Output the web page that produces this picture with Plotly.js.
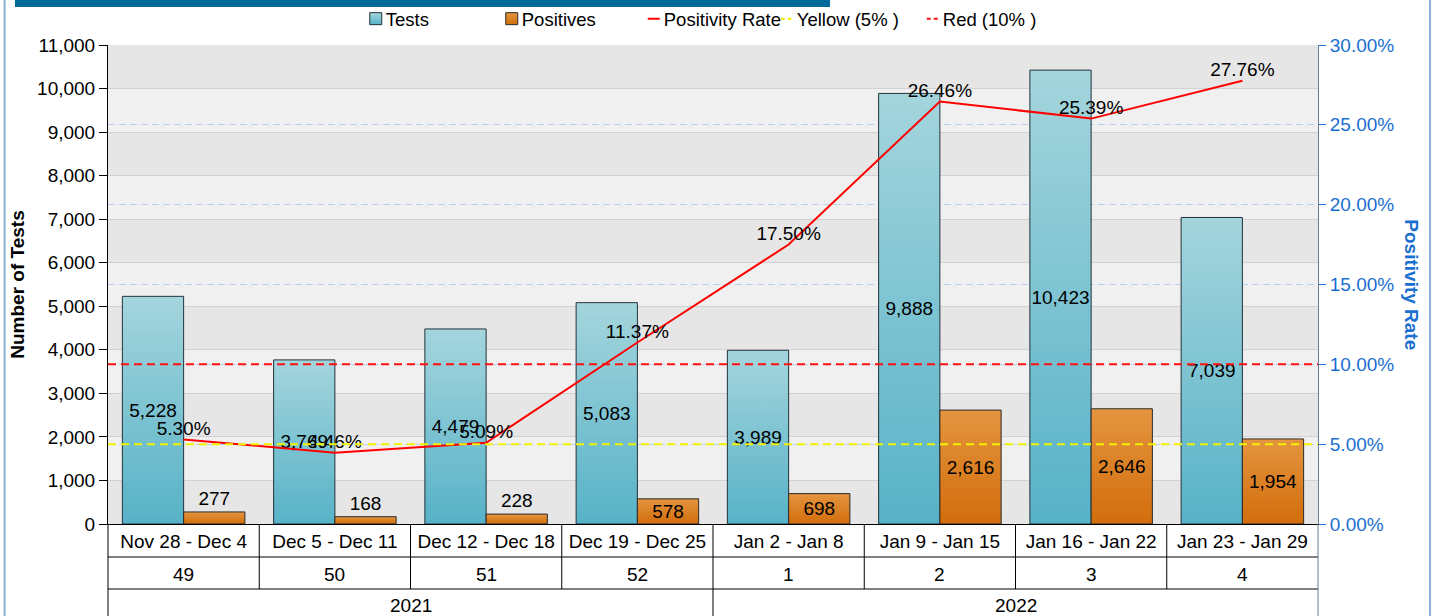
<!DOCTYPE html>
<html>
<head>
<meta charset="utf-8">
<script src="https://cdn.plot.ly/plotly-3.0.1.min.js"></script>
<style>html,body{margin:0;padding:0;background:#fff;}#chart{width:1433px;height:616px;}</style>
</head>
<body>
<div id="chart"></div>
<script>
const categories = ['Nov 28 - Dec 4','Dec 5 - Dec 11','Dec 12 - Dec 18','Dec 19 - Dec 25','Jan 2 - Jan 8','Jan 9 - Jan 15','Jan 16 - Jan 22','Jan 23 - Jan 29'];
const weeks = ['49','50','51','52','1','2','3','4'];
const years = ['2021','2021','2021','2021','2022','2022','2022','2022'];
const tests = [5228, 3769, 4479, 5083, 3989, 9888, 10423, 7039];
const positives = [277, 168, 228, 578, 698, 2616, 2646, 1954];
const positivityRate = [5.30, 4.46, 5.09, 11.37, 17.50, 26.46, 25.39, 27.76];
const yellowThreshold = 5;
const redThreshold = 10;
const leftMax = 11000;
const rightMax = 30;

const FONT = 'Liberation Sans, Arial, Helvetica, sans-serif';
const FS = 19;
const BLUE = '#1a6fd0';
const fmt = v => v.toLocaleString('en-US');

const traces = [
  {
    type: 'bar', name: 'Tests', x: categories, y: tests,
    text: tests.map(fmt), textposition: 'inside', insidetextanchor: 'middle',
    textangle: 0, textfont: {size: FS, color: '#000', family: FONT},
    marker: {color: '#7cc2d1', line: {color: '#22323a', width: 1}},
    legendwidth: 91, cliponaxis: false, hoverinfo: 'x+y'
  },
  {
    type: 'bar', name: 'Positives', x: categories, y: positives,
    text: positives.map(fmt), textposition: positives.map(v => v > 400 ? 'inside' : 'outside'),
    insidetextanchor: 'middle', textangle: 0,
    textfont: {size: FS, color: '#000', family: FONT},
    marker: {color: '#da7b1f', line: {color: '#2b2b2b', width: 1}},
    legendwidth: 97, cliponaxis: false, hoverinfo: 'x+y'
  },
  {
    type: 'scatter', mode: 'lines+text', name: 'Positivity Rate', x: categories, y: positivityRate,
    yaxis: 'y2', line: {color: '#ff0000', width: 2},
    text: positivityRate.map(v => v.toFixed(2) + '%'), textposition: 'top center',
    textfont: {size: FS, color: '#000', family: FONT}, cliponaxis: false,
    legendwidth: 88
  },
  {
    type: 'scatter', mode: 'lines', name: 'Yellow (5% )', x: [0, 1], y: [yellowThreshold, yellowThreshold],
    xaxis: 'x2', yaxis: 'y2', line: {color: '#f2f200', width: 2, dash: '8px,5px'},
    legendwidth: 101, hoverinfo: 'skip'
  },
  {
    type: 'scatter', mode: 'lines', name: 'Red (10% )', x: [0, 1], y: [redThreshold, redThreshold],
    xaxis: 'x2', yaxis: 'y2', line: {color: '#ff1010', width: 2, dash: '8px,5px'},
    legendwidth: 115, hoverinfo: 'skip'
  }
];

const shapes = [];
// alternating bands
for (let k = 0; k < leftMax; k += 2000) {
  shapes.push({type: 'rect', xref: 'paper', yref: 'y', x0: 0, x1: 1, y0: k, y1: k + 1000,
    fillcolor: '#e6e6e6', line: {width: 0}, layer: 'below'});
}
// title bar remnant
shapes.push({type: 'rect', xref: 'paper', yref: 'paper', x0: -0.0769, x1: 0.5967, y0: 1.0793, y1: 1.12,
  fillcolor: '#006a9b', line: {width: 0}});
// outer border lines
shapes.push({type: 'line', xref: 'paper', yref: 'paper', x0: -0.0855, x1: -0.0855, y0: -0.2, y1: 1.12,
  line: {color: '#8eb0d8', width: 2}});
shapes.push({type: 'line', xref: 'paper', yref: 'paper', x0: 1.0926, x1: 1.0926, y0: -0.2, y1: 1.12,
  line: {color: '#8eb0d8', width: 2}});
// table: horizontal lines
[-0.0689, -0.1357].forEach(yy => shapes.push({type: 'line', xref: 'paper', yref: 'paper', x0: 0, x1: 1, y0: yy, y1: yy,
  line: {color: '#000', width: 1}}));
// table: vertical lines between categories
for (let i = 1; i < categories.length; i++) {
  const full = years[i] !== years[i - 1];
  shapes.push({type: 'line', xref: 'x', yref: 'paper', x0: i - 0.5, x1: i - 0.5, y0: 0, y1: full ? -0.2 : -0.1357,
    line: {color: '#000', width: 1}});
}
// table outer sides
shapes.push({type: 'line', xref: 'paper', yref: 'paper', x0: 0, x1: 0, y0: 0, y1: -0.2, line: {color: '#000', width: 1}});
shapes.push({type: 'line', xref: 'paper', yref: 'paper', x0: 1, x1: 1, y0: 0, y1: -0.2, line: {color: '#6d7c8f', width: 1}});

const annotations = [];
weeks.forEach((w, i) => annotations.push({xref: 'x', yref: 'paper', x: i, y: -0.1044, text: w, showarrow: false,
  yanchor: 'middle', font: {size: FS, color: '#000', family: FONT}}));
const uniqueYears = [...new Set(years)];
uniqueYears.forEach(yr => {
  const idx = years.map((y, i) => y === yr ? i : -1).filter(i => i >= 0);
  const center = (idx[0] + idx[idx.length - 1]) / 2;
  annotations.push({xref: 'x', yref: 'paper', x: center, y: -0.1705, text: yr, showarrow: false,
    yanchor: 'middle', font: {size: FS, color: '#000', family: FONT}});
});
annotations.push({xref: 'paper', yref: 'paper', x: 1.077, y: 0.5, text: 'Positivity Rate', textangle: 90,
  showarrow: false, xanchor: 'center', yanchor: 'middle', font: {size: FS, color: BLUE, family: FONT, weight: 'bold'}});

const layout = {
  width: 1433, height: 616,
  margin: {l: 108, r: 115, t: 45, b: 92, pad: 0, autoexpand: false},
  paper_bgcolor: '#ffffff', plot_bgcolor: '#f0f0f0',
  font: {family: FONT, size: FS, color: '#000'},
  barmode: 'group', bargap: 0.19, bargroupgap: 0,
  uniformtext: {mode: 'show', minsize: FS},
  showlegend: true,
  legend: {orientation: 'h', x: 0.1965, xanchor: 'left', y: 1.054, yanchor: 'middle',
    font: {size: 18.5, family: FONT, color: '#000'}, bgcolor: 'rgba(0,0,0,0)', itemwidth: 30},
  xaxis: {type: 'category', range: [-0.5, categories.length - 0.5], showgrid: false, showline: true,
    linecolor: '#000', linewidth: 1, ticks: '', tickfont: {size: FS, family: FONT, color: '#000'},
    ticklabelstandoff: 0, zeroline: false, fixedrange: true},
  xaxis2: {overlaying: 'x', range: [0, 1], visible: false, fixedrange: true},
  yaxis: {range: [0, leftMax], dtick: 1000, tickformat: ',d', showgrid: true, gridcolor: '#d2d2d2', gridwidth: 1,
    showline: true, linecolor: '#000', linewidth: 1, ticks: 'outside', ticklen: 8, tickcolor: '#000',
    tickfont: {size: FS, family: FONT, color: '#000'}, zeroline: false, fixedrange: true,
    title: {text: 'Number of Tests', font: {size: FS, family: FONT, color: '#000', weight: 'bold'}, standoff: 7}},
  yaxis2: {overlaying: 'y', side: 'right', range: [0, rightMax], dtick: 5, tickformat: '.2f', ticksuffix: '%',
    showgrid: true, gridcolor: '#b9d3ee', griddash: '7px,4px', gridwidth: 1, showline: true, linecolor: '#6d7c8f',
    ticks: 'outside', ticklen: 7, tickcolor: BLUE, tickfont: {size: FS, family: FONT, color: BLUE},
    zeroline: false, fixedrange: true},
  shapes: shapes,
  annotations: annotations
};

const gd = document.getElementById('chart');
Plotly.newPlot(gd, traces, layout, {displayModeBar: false, staticPlot: true}).then(() => {
  try {
    const NS = 'http://www.w3.org/2000/svg';
    const svg = gd.querySelector('svg.main-svg');
    let defs = svg.querySelector('defs');
    const grads = {Tests: ['#a4d5dd', '#57b2c7'], Positives: ['#e4953f', '#d26d0c']};
    Object.keys(grads).forEach(name => {
      const lg = document.createElementNS(NS, 'linearGradient');
      lg.setAttribute('id', 'grad' + name);
      lg.setAttribute('x1', '0'); lg.setAttribute('y1', '0'); lg.setAttribute('x2', '0'); lg.setAttribute('y2', '1');
      grads[name].forEach((c, j) => {
        const st = document.createElementNS(NS, 'stop');
        st.setAttribute('offset', j ? '1' : '0');
        st.setAttribute('stop-color', c);
        lg.appendChild(st);
      });
      defs.appendChild(lg);
    });
    gd.querySelectorAll('.barlayer .trace.bars').forEach(tr => {
      const name = tr.__data__ && tr.__data__[0] && tr.__data__[0].trace.name;
      if (grads[name]) tr.querySelectorAll('.point path').forEach(p => { p.style.fill = 'url(#grad' + name + ')'; });
    });
    gd.querySelectorAll('.legend .traces').forEach(tr => {
      const t = tr.__data__ && tr.__data__[0] && tr.__data__[0].trace;
      if (!t) return;
      tr.querySelectorAll('.legendlines path').forEach(p => {
        p.setAttribute('d', 'M24,0h12');
        if (t.line && t.line.dash && t.line.dash !== 'solid') p.style.strokeDasharray = '4px,3px';
      });
      if (grads[t.name]) tr.querySelectorAll('.legendpoints path').forEach(p => {
        p.setAttribute('transform', 'translate(30,0)');
        p.style.fill = 'url(#grad' + t.name + ')';
      });
    });
  } catch (e) { console.log(e); }
});
</script>
</body>
</html>
